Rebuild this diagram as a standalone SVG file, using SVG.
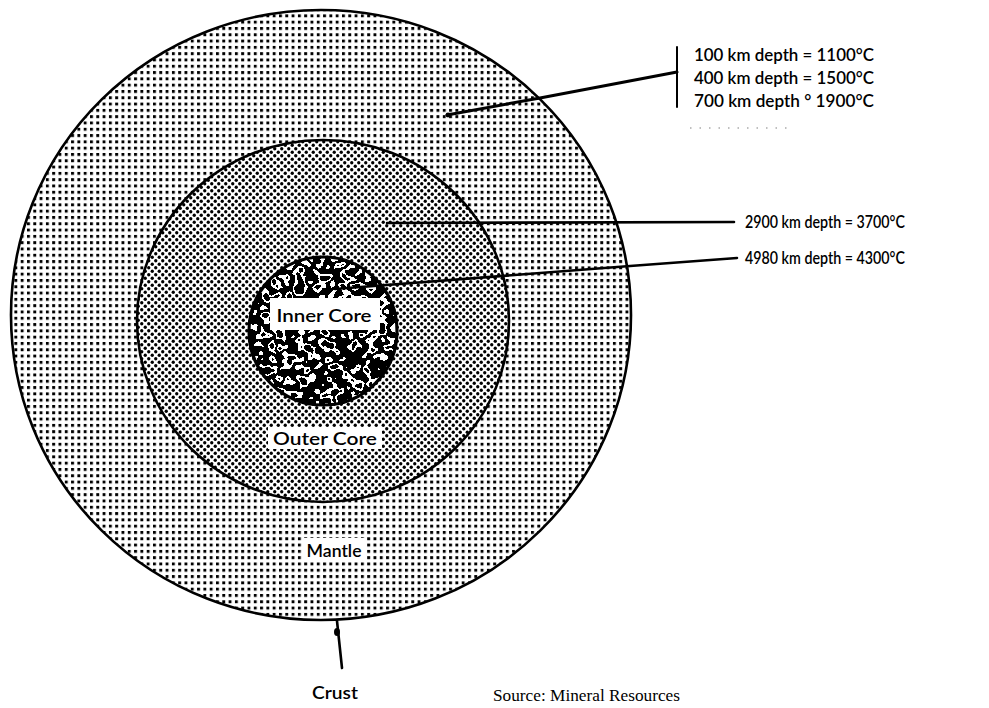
<svg xmlns="http://www.w3.org/2000/svg" width="989" height="708" viewBox="0 0 989 708">
  <style>
    .rim { fill: none; stroke: #000; stroke-width: 2.6; }
    .lead { fill: none; stroke: #000; stroke-linecap: round; }
    .lbl { font-family: Lato, "Liberation Sans", sans-serif; font-size: 17px; font-weight: 600; fill: #000; }
    .note { font-family: Lato, "Liberation Sans", sans-serif; font-size: 17px; font-weight: 600; fill: #000; }
    .src { font-family: "Liberation Serif", serif; font-size: 17px; fill: #000; }
    .pad { fill: #fff; }
  </style>
  <defs>
    <!-- coarse square grid for the mantle -->
    <pattern id="mantleDots" width="6.3" height="6.3" patternUnits="userSpaceOnUse">
      <rect x="1.8" y="1.8" width="2.9" height="2.9" fill="#000"/>
    </pattern>
    <!-- denser staggered dots for the outer core -->
    <pattern id="coreDots" width="7" height="7" patternUnits="userSpaceOnUse">
      <circle cx="1.75" cy="1.75" r="1.65" fill="#000"/>
      <circle cx="5.25" cy="5.25" r="1.65" fill="#000"/>
    </pattern>
    <!-- mottled black texture for the inner core -->
    <filter id="mottle" x="240" y="250" width="170" height="165" filterUnits="userSpaceOnUse">
      <feTurbulence type="fractalNoise" baseFrequency="0.085" numOctaves="2" seed="11" result="n"/>
      <feColorMatrix in="n" type="matrix" values="1 0 0 0 0  1 0 0 0 0  1 0 0 0 0  0 0 0 0 1" result="g"/>
      <feComponentTransfer in="g">
        <feFuncR type="discrete" tableValues="0 0 0 1 0 0 1 0 0"/>
        <feFuncG type="discrete" tableValues="0 0 0 1 0 0 1 0 0"/>
        <feFuncB type="discrete" tableValues="0 0 0 1 0 0 1 0 0"/>
      </feComponentTransfer>
    </filter>
    <clipPath id="innerClip">
      <circle cx="323" cy="331" r="74"/>
    </clipPath>
  </defs>

  <rect width="989" height="708" fill="#fff"/>

  <g id="mantle">
    <ellipse cx="321" cy="315" rx="310" ry="305" fill="#fff"/>
    <ellipse cx="321" cy="315" rx="310" ry="305" fill="url(#mantleDots)"/>
    <ellipse cx="321" cy="315" rx="310" ry="305" class="rim"/>
  </g>

  <g id="outer-core">
    <ellipse cx="323" cy="321" rx="186" ry="181" fill="#fff"/>
    <ellipse cx="323" cy="321" rx="186" ry="181" fill="url(#coreDots)"/>
    <ellipse cx="323" cy="321" rx="186" ry="181" class="rim"/>
  </g>

  <g id="inner-core">
    <g clip-path="url(#innerClip)">
      <rect x="245" y="254" width="160" height="156" filter="url(#mottle)"/>
    </g>
    <circle cx="323" cy="331" r="74" fill="none" stroke="#000" stroke-width="3.2"/>
  </g>

  <g id="connectors">
    <!-- bracket and leader for the mantle temperatures -->
    <line x1="677" y1="47" x2="677" y2="107" class="lead" stroke-width="2"/>
    <path d="M447 115 L540 98 L677 72" class="lead" stroke-width="3"/>
    <circle cx="448" cy="115" r="2.4" fill="#000"/>
    <!-- outer core boundary leader -->
    <path d="M387 223 L734 222" class="lead" stroke-width="2.6"/>
    <!-- inner core boundary leader -->
    <path d="M335 289 L630 266 L737 258" class="lead" stroke-width="2.6"/>
    <!-- crust pointer -->
    <path d="M337 621 L342 668" class="lead" stroke-width="2.6"/>
    <ellipse cx="337" cy="632" rx="3" ry="4" fill="#000"/>
    <!-- faint dotted rule under the mantle notes -->
    <line x1="690" y1="128" x2="792" y2="128" stroke="#aaa" stroke-width="1.5" stroke-dasharray="1.5 8"/>
  </g>

  <g id="label-inner-core">
    <rect x="270" y="298" width="110" height="32" class="pad"/>
    <text x="324" y="322" class="lbl" text-anchor="middle" textLength="95" lengthAdjust="spacingAndGlyphs">Inner Core</text>
  </g>
  <g id="label-outer-core">
    <rect x="268" y="427" width="114" height="22" class="pad"/>
    <text x="325" y="445" class="lbl" text-anchor="middle" textLength="104" lengthAdjust="spacingAndGlyphs">Outer Core</text>
  </g>
  <g id="label-mantle">
    <rect x="302" y="538" width="65" height="23" class="pad"/>
    <text x="334" y="557" class="lbl" text-anchor="middle" textLength="55" lengthAdjust="spacingAndGlyphs">Mantle</text>
  </g>
  <g id="label-crust">
    <text x="335" y="699" class="lbl" font-size="15" text-anchor="middle" textLength="46" lengthAdjust="spacingAndGlyphs">Crust</text>
  </g>

  <g id="notes-mantle">
    <text x="694" y="61" class="note" textLength="180" lengthAdjust="spacingAndGlyphs">100 km depth = 1100°C</text>
    <text x="694" y="84" class="note" textLength="180" lengthAdjust="spacingAndGlyphs">400 km depth = 1500°C</text>
    <text x="694" y="107" class="note" textLength="180" lengthAdjust="spacingAndGlyphs">700 km depth ° 1900°C</text>
  </g>
  <g id="note-outer-core">
    <text x="745" y="228" class="note" textLength="160" lengthAdjust="spacingAndGlyphs">2900 km depth = 3700°C</text>
  </g>
  <g id="note-inner-core">
    <text x="745" y="264" class="note" textLength="160" lengthAdjust="spacingAndGlyphs">4980 km depth = 4300°C</text>
  </g>

  <g id="source">
    <text x="493" y="701" class="src" textLength="187" lengthAdjust="spacingAndGlyphs">Source: Mineral Resources</text>
  </g>
</svg>
